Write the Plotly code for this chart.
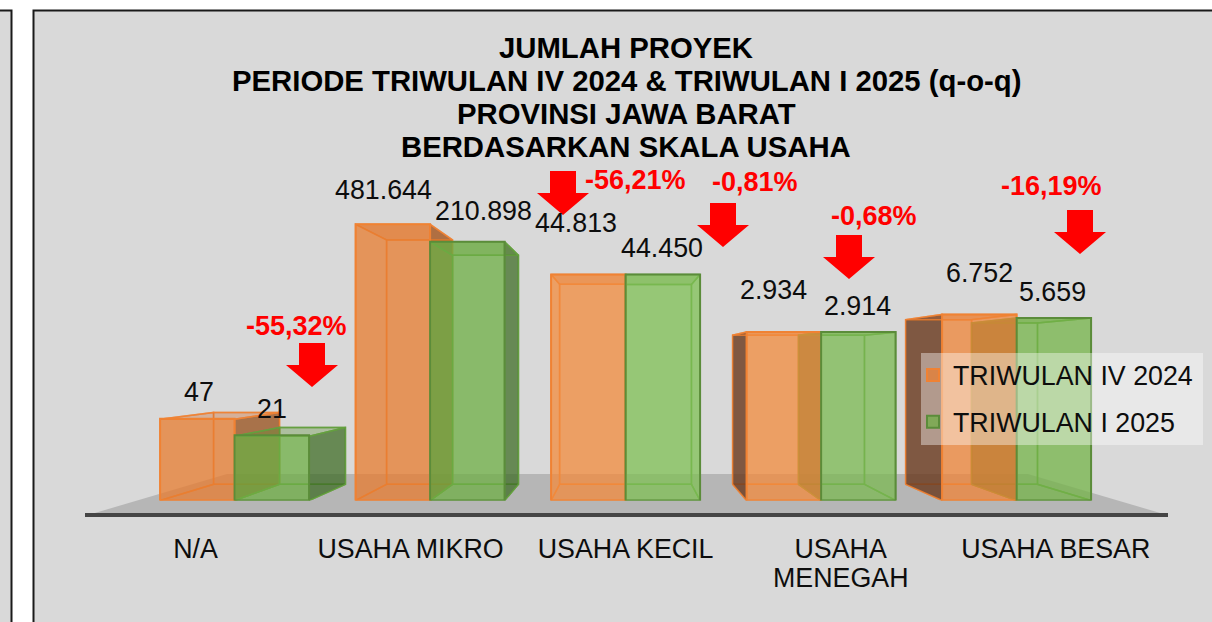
import math
import plotly.graph_objects as go

categories = ["N/A", "USAHA MIKRO", "USAHA KECIL", "USAHA<br>MENEGAH", "USAHA BESAR"]
series_names = ["TRIWULAN IV 2024", "TRIWULAN I 2025"]
values_q4 = [47, 481644, 44813, 2934, 6752]
values_q1 = [21, 210898, 44450, 2914, 5659]
changes = ["-55,32%", "-56,21%", "-0,81%", "-0,68%", "-16,19%"]
title_lines = ["JUMLAH PROYEK", "PERIODE TRIWULAN IV 2024 & TRIWULAN I 2025 (q-o-q)",
               "PROVINSI JAWA BARAT", "BERDASARKAN SKALA USAHA"]

W, H = 1212, 622
BASE_PX = 500.5
PX_PER_DECADE = 48.6
X0_PX, STEP_PX = 234.6, 195.5
X_RANGE = [(0 - X0_PX) / STEP_PX, (W - X0_PX) / STEP_PX]
Y_RANGE = [0, BASE_PX / PX_PER_DECADE]
BAR_W = 0.381
DEPTH = 0.885
VAN_X = (625.0 - X0_PX) / STEP_PX
VAN_LOG = (BASE_PX - 360.0) / PX_PER_DECADE
FONT = "Liberation Sans"
FS = 26.8
FS_PCT = 27
FS_TITLE = 29.3


def px(x):
    return x / W


def py(y):
    return 1 - y / H


def faces(values, offset):
    groups = {"inner": [[], []], "outer_left": [[], []], "outer_right": [[], []], "top": [[], []], "back": [[], []]}

    def add(g, pts):
        for a, b in pts + [pts[0]]:
            groups[g][0].append(a)
            groups[g][1].append(10 ** b)
        groups[g][0].append(None)
        groups[g][1].append(None)

    for i, v in enumerate(values):
        x0, x1 = i + offset - BAR_W / 2, i + offset + BAR_W / 2
        ly = math.log10(v)
        bx0, bx1 = [VAN_X + DEPTH * (q - VAN_X) for q in (x0, x1)]
        bb, bt = [VAN_LOG + DEPTH * (q - VAN_LOG) for q in (0, ly)]
        add("back", [(bx0, bb), (bx1, bb), (bx1, bt), (bx0, bt)])
        add("inner", [(x0, 0), (x1, 0), (bx1, bb), (bx0, bb)])
        add("outer_left" if bx0 < x0 else "inner", [(x0, 0), (bx0, bb), (bx0, bt), (x0, ly)])
        add("outer_right" if bx1 > x1 else "inner", [(x1, 0), (bx1, bb), (bx1, bt), (x1, ly)])
        add("top", [(x0, ly), (x1, ly), (bx1, bt), (bx0, bt)])
    return groups


SERIES = [
    dict(name=series_names[0], values=values_q4, offset=-BAR_W / 2, line="#F08233",
         fills=["rgba(232,124,46,0.72)", "rgba(232,124,46,0.72)", "rgba(243,138,60,0.72)",
                "rgba(243,138,60,0.72)", "rgba(240,132,54,0.72)"],
         inner="rgba(237,125,49,0.08)", left="rgba(104,58,31,0.8)", right="rgba(140,59,0,0.64)",
         top="rgba(200,100,40,0.30)", back="rgba(237,125,49,0.08)", edge="rgba(240,130,51,0.8)"),
    dict(name=series_names[1], values=values_q1, offset=BAR_W / 2, line="#5B8C3A",
         fills=["rgba(109,174,68,0.72)", "rgba(109,174,68,0.72)", "rgba(127,193,85,0.72)",
                "rgba(124,186,82,0.72)", "rgba(116,180,72,0.72)"],
         inner="rgba(112,173,71,0.08)", left="rgba(58,104,33,0.7)", right="rgba(58,104,33,0.7)",
         top="rgba(90,140,50,0.30)", back="rgba(112,173,71,0.08)", edge="rgba(100,160,62,0.85)"),
]

fig = go.Figure()

for s in SERIES:
    g = faces(s["values"], s["offset"])
    for key in ["back", "inner", "outer_left", "outer_right", "top"]:
        color = {"back": s["back"], "inner": s["inner"], "outer_left": s["left"],
                 "outer_right": s["right"], "top": s["top"]}[key]
        fig.add_trace(go.Scatter(x=g[key][0], y=g[key][1], mode="lines", fill="toself",
                                 fillcolor=color, line=dict(color=s["edge"], width=1.5),
                                 showlegend=False, hoverinfo="skip", xaxis="x", yaxis="y"))

for s in SERIES:
    fig.add_trace(go.Bar(x=list(range(len(categories))), y=s["values"], base=1, name=s["name"],
                         legendgroup=s["name"],
                         marker=dict(color=s["fills"], line=dict(color=s["line"], width=2)),
                         xaxis="x2", yaxis="y2"))

# panels, floor and baseline (decoration)
shapes = [
    dict(type="rect", xref="paper", yref="paper", x0=px(-5), x1=px(11.5), y0=py(H + 5), y1=py(10.5),
         fillcolor="#D9D9D9", line=dict(color="#1A1A1A", width=2), layer="below"),
    dict(type="rect", xref="paper", yref="paper", x0=px(33.5), x1=px(W + 5), y0=py(H + 5), y1=py(10.5),
         fillcolor="#D9D9D9", line=dict(color="#1A1A1A", width=2), layer="below"),
    dict(type="path", xref="paper", yref="paper", layer="below", fillcolor="#B6B6B6", line=dict(width=0),
         path=f"M {px(88)} {py(515)} L {px(227)} {py(474)} L {px(1028)} {py(474)} L {px(1167)} {py(515)} Z"),
    dict(type="line", xref="paper", yref="paper", layer="below", x0=px(85), x1=px(1168), y0=py(515), y1=py(515),
         line=dict(color="#454545", width=4)),
    # translucent legend plate
    dict(type="rect", xref="paper", yref="paper", x0=px(921), x1=px(1203), y0=py(445), y1=py(353),
         fillcolor="rgba(255,255,255,0.4)", line=dict(width=0), layer="above"),
]
# block arrows next to the change labels
for cx, top in [(312, 343), (563, 171), (723, 203), (849, 235), (1080, 210)]:
    pts = [(cx - 13, top), (cx + 13, top), (cx + 13, top + 22), (cx + 26, top + 22), (cx, top + 44),
           (cx - 26, top + 22), (cx - 13, top + 22)]
    path = "M " + " L ".join(f"{px(a)} {py(b)}" for a, b in pts) + " Z"
    shapes.append(dict(type="path", xref="paper", yref="paper", path=path, fillcolor="#FF0000", line=dict(width=0)))

annotations = []
# (dx, dy) of each value label from the top-centre of its bar
label_offsets = [
    [(1.5, 27), (-9, 34), (-12, 51), (-10, 42), (0, 41)],
    [(0, 27), (16, 31), (-1, 27), (-1, 26), (-1, 26)],
]
for s, offs in zip(SERIES, label_offsets):
    for i, v in enumerate(s["values"]):
        annotations.append(dict(x=i + s["offset"], y=math.log10(v), xref="x", yref="y",
                                text=f"{v:,}".replace(",", "."), showarrow=False,
                                xshift=offs[i][0], yshift=offs[i][1],
                                font=dict(family=FONT, size=FS, color="#0D0D0D")))
for text, (cx, cy) in zip(changes, [(296, 326), (635, 180), (755, 182), (874, 216), (1051, 186)]):
    annotations.append(dict(x=px(cx), y=py(cy), xref="paper", yref="paper", text=f"<b>{text}</b>",
                            xanchor="center", yanchor="middle", showarrow=False,
                            font=dict(family=FONT, size=FS_PCT, color="#FF0000")))
for line, cy in zip(title_lines, [47, 80.5, 114, 147]):
    annotations.append(dict(x=px(626), y=py(cy), xref="paper", yref="paper", text=f"<b>{line}</b>",
                            xanchor="center", yanchor="middle", showarrow=False,
                            font=dict(family=FONT, size=FS_TITLE, color="#000000")))

LABEL_SPREAD = 1.1
tickvals = [2 + (i - 2) * LABEL_SPREAD for i in range(len(categories))]
ticktext = [c.split("<br>")[0] for c in categories]
for i, c in enumerate(categories):
    if "<br>" in c:
        annotations.append(dict(x=tickvals[i], y=py(578), xref="x", yref="paper", text=c.split("<br>")[1],
                                xanchor="center", yanchor="middle", showarrow=False,
                                font=dict(family=FONT, size=FS, color="#0D0D0D")))

fig.update_layout(
    width=W, height=H, margin=dict(l=0, r=0, t=0, b=0), paper_bgcolor="#FFFFFF", plot_bgcolor="rgba(0,0,0,0)",
    barmode="group", bargap=1 - 2 * BAR_W, bargroupgap=0,
    xaxis=dict(range=X_RANGE, domain=[0, 1], tickmode="array", tickvals=tickvals, ticktext=ticktext,
               showgrid=False, zeroline=False, showline=False, ticks="outside", ticklen=24,
               tickcolor="rgba(0,0,0,0)", tickfont=dict(family=FONT, size=FS, color="#0D0D0D"), anchor="y"),
    yaxis=dict(type="log", range=Y_RANGE, domain=[py(BASE_PX), 1], visible=False, anchor="x"),
    xaxis2=dict(range=X_RANGE, overlaying="x", visible=False, anchor="y2"),
    yaxis2=dict(type="log", range=Y_RANGE, overlaying="y", visible=False, anchor="x2"),
    legend=dict(x=px(913), y=py(351), xanchor="left", yanchor="top", bgcolor="rgba(0,0,0,0)",
                font=dict(family=FONT, size=FS, color="#0D0D0D"), traceorder="grouped",
                itemsizing="constant", tracegroupgap=9),
    shapes=shapes, annotations=annotations,
)

fig.write_html("out.html", config=dict(displayModeBar=False),
               post_script="document.body.style.margin='0';document.body.style.overflow='hidden';")
